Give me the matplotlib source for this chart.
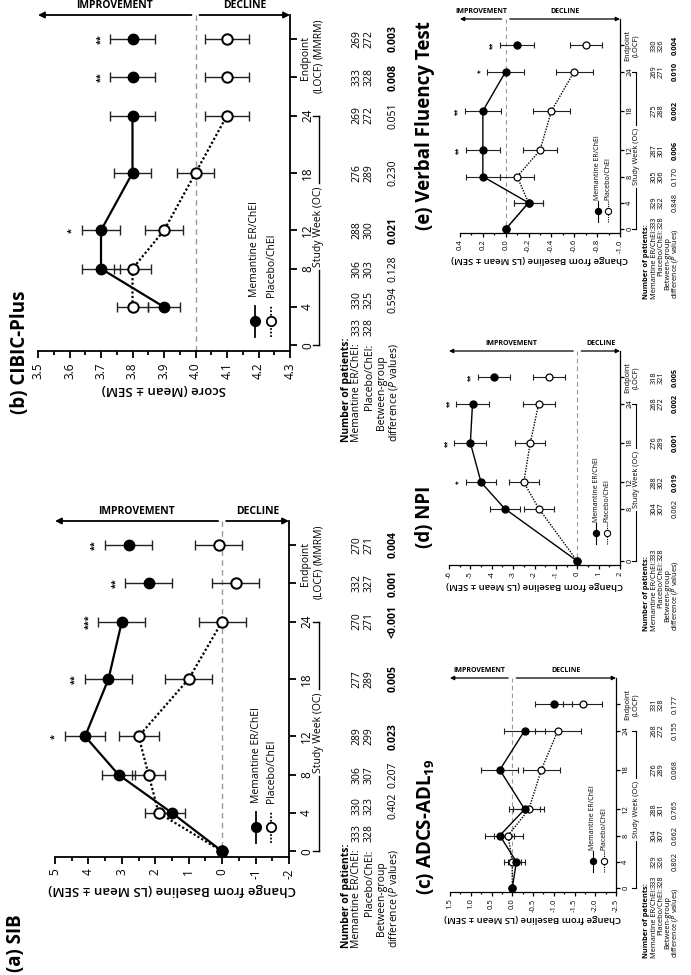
import matplotlib
matplotlib.use("Agg")
import matplotlib.pyplot as plt
import matplotlib.transforms as mtransforms
from matplotlib.ticker import MultipleLocator, FuncFormatter

plt.rcParams['font.family'] = ['Open Sans', 'DejaVu Sans']
plt.rcParams['axes.unicode_minus'] = False
plt.rcParams['mathtext.fontset'] = 'custom'
plt.rcParams['mathtext.rm'] = 'Open Sans'
plt.rcParams['mathtext.it'] = 'Open Sans:italic'
plt.rcParams['mathtext.bf'] = 'Open Sans:bold'

# endpoints are plotted at week 28 (LOCF) and 32 (MMRM)
# (a) SIB
sib_weeks = [0, 4, 8, 12, 18, 24, 28, 32]
sib_mem = [0.0, 1.5, 3.1, 4.1, 3.4, 3.0, 2.2, 2.8]
sib_mem_err = [0.0, 0.4, 0.5, 0.6, 0.7, 0.7, 0.7, 0.7]
sib_pbo = [0.0, 1.9, 2.2, 2.5, 1.0, 0.0, -0.4, 0.1]
sib_pbo_err = [0.0, 0.4, 0.5, 0.6, 0.7, 0.7, 0.7, 0.7]
sib_sig = ['', '', '', '*', '**', '***', '**', '**']
sib_n_mem = [333, 330, 306, 289, 277, 270, 332, 270]
sib_n_pbo = [328, 323, 307, 299, 289, 271, 327, 271]
sib_p = ['', '0.402', '0.207', '0.023', '0.005', '<0.001', '0.001', '0.004']

# (b) CIBIC-Plus
cib_weeks = [4, 8, 12, 18, 24, 28, 32]
cib_mem = [3.9, 3.7, 3.7, 3.8, 3.8, 3.8, 3.8]
cib_mem_err = [0.05, 0.06, 0.06, 0.06, 0.07, 0.07, 0.07]
cib_pbo = [3.8, 3.8, 3.9, 4.0, 4.1, 4.1, 4.1]
cib_pbo_err = [0.05, 0.06, 0.06, 0.06, 0.07, 0.07, 0.07]
cib_sig = ['', '', '*', '', '', '**', '**']
cib_n_mem = [333, 330, 306, 288, 276, 269, 333, 269]
cib_n_pbo = [328, 325, 303, 300, 289, 272, 328, 272]
cib_p = ['', '0.594', '0.128', '0.021', '0.230', '0.051', '0.008', '0.003']

# (c) ADCS-ADL19
adl_weeks = [0, 4, 8, 12, 18, 24, 28]
adl_mem = [0.0, -0.1, 0.3, -0.3, 0.3, -0.3, -1.0]
adl_mem_err = [0.0, 0.2, 0.35, 0.37, 0.45, 0.5, 0.45]
adl_pbo = [0.0, 0.0, 0.1, -0.4, -0.7, -1.1, -1.7]
adl_pbo_err = [0.0, 0.2, 0.35, 0.37, 0.45, 0.55, 0.47]
adl_sig = ['', '', '', '', '', '', '']
adl_n_mem = [333, 329, 304, 288, 276, 268, 331]
adl_n_pbo = [328, 326, 307, 301, 289, 272, 328]
adl_p = ['', '0.802', '0.662', '0.765', '0.068', '0.155', '0.177']

# (d) NPI
npi_weeks = [0, 8, 12, 18, 24, 28]
npi_mem = [0.0, -3.4, -4.5, -5.0, -4.9, -3.9]
npi_mem_err = [0.0, 0.7, 0.7, 0.75, 0.75, 0.75]
npi_pbo = [0.0, -1.8, -2.5, -2.2, -1.8, -1.3]
npi_pbo_err = [0.0, 0.7, 0.7, 0.7, 0.75, 0.75]
npi_sig = ['', '', '*', '**', '**', '**']
npi_n_mem = [333, 304, 288, 276, 268, 318]
npi_n_pbo = [328, 307, 302, 289, 272, 321]
npi_p = ['', '0.062', '0.019', '0.001', '0.002', '0.005']

# (e) Verbal Fluency Test
vft_weeks = [0, 4, 8, 12, 18, 24, 28]
vft_mem = [0.0, -0.2, 0.2, 0.2, 0.2, 0.0, -0.1]
vft_mem_err = [0.0, 0.13, 0.15, 0.15, 0.16, 0.16, 0.15]
vft_pbo = [0.0, -0.2, -0.1, -0.3, -0.4, -0.6, -0.7]
vft_pbo_err = [0.0, 0.13, 0.15, 0.15, 0.16, 0.16, 0.14]
vft_sig = ['', '', '', '**', '**', '*', '**']
vft_n_mem = [333, 329, 305, 287, 275, 269, 330]
vft_n_pbo = [328, 322, 306, 301, 288, 271, 326]
vft_p = ['', '0.848', '0.170', '0.006', '0.002', '0.010', '0.004']

W, H = 691, 975
fig = plt.figure(figsize=(W / 100, H / 100), dpi=100)
renderer = fig.canvas.get_renderer()

BIG = dict(ms=7.5, lw=1.6, elw=1.0, cap=3.5, tick=8.5, star=6.5, arrow=7.5, arrow_lw=1.3,
           head=9, lab=9.5, leg=7.5, tab=7.5, tlen=5, pad=3)
SMALL = dict(ms=5, lw=1.0, elw=0.8, cap=2.3, tick=5.5, star=4.8, arrow=5, arrow_lw=0.9,
             head=6, lab=6.8, leg=5, tab=5.3, tlen=3, pad=1.5)


def box(l, t, r, b):
    return fig.add_axes([l / W, 1 - b / H, (r - l) / W, (b - t) / H])


def fmt_tick(v, pos, dec):
    if abs(v) < 1e-9:
        v = 0.0
    return ('%.' + str(dec) + 'f') % v


def wk_of(ax, ypix_disp):
    return ax.transData.inverted().transform((0, ypix_disp))[1]


def panel(ax, weeks, mem, mem_err, pbo, pbo_err, sig, xlim, major, minor, dec,
          zero, ylim, tick_wk, st):
    n_line = len([w for w in weeks if w <= 24])
    for vals, errs in [(pbo, pbo_err), (mem, mem_err)]:
        idx = [i for i in range(len(weeks)) if errs[i] > 0]
        ax.errorbar([vals[i] for i in idx], [weeks[i] for i in idx],
                    xerr=[errs[i] for i in idx], fmt='none', ecolor='#222222',
                    elinewidth=st['elw'], capsize=st['cap'], capthick=st['elw'], zorder=2)
    ax.plot(pbo[:n_line], weeks[:n_line], color='k', lw=st['lw'], ls=(0, (1, 1)), zorder=3)
    ax.plot(mem[:n_line], weeks[:n_line], color='k', lw=st['lw'], zorder=3)
    ax.plot(pbo, weeks, 'o', ls='none', mfc='white', mec='k', mew=st['lw'] * 0.9,
            ms=st['ms'], zorder=4)
    ax.plot(mem, weeks, 'o', ls='none', mfc='k', mec='k', ms=st['ms'], zorder=5)

    ax.set_xlim(xlim)
    ax.set_ylim(ylim)
    ax.axvline(zero, color='#9a9a9a', lw=st['elw'], ls=(0, (4, 3)), zorder=1)
    for s in ['top', 'left']:
        ax.spines[s].set_visible(False)
    for s in ['bottom', 'right']:
        ax.spines[s].set_linewidth(st['arrow_lw'])
    ax.yaxis.tick_right()
    ax.xaxis.set_major_locator(MultipleLocator(major))
    ax.xaxis.set_minor_locator(MultipleLocator(minor))
    ax.xaxis.set_major_formatter(FuncFormatter(lambda v, p: fmt_tick(v, p, dec)))
    ax.tick_params(axis='x', which='major', length=st['tlen'], width=st['arrow_lw'],
                   labelsize=st['tick'], labelrotation=90, pad=st['pad'])
    ax.tick_params(axis='x', which='minor', length=st['tlen'] * 0.6, width=st['arrow_lw'])
    ax.set_yticks(tick_wk)
    ax.set_yticklabels([str(w) if w <= 24 else '' for w in tick_wk])
    ax.tick_params(axis='y', length=st['tlen'], width=st['arrow_lw'], labelsize=st['tick'],
                   labelrotation=90, pad=st['pad'])
    for t in ax.get_yticklabels():
        t.set_va('center')

    # improvement / decline arrows along the top
    sgn = 1 if xlim[1] > xlim[0] else -1
    gap = 4 * abs(xlim[1] - xlim[0]) / (ax.get_position().width * W)
    for end, label in [(xlim[0], 'IMPROVEMENT'), (xlim[1], 'DECLINE')]:
        start = zero - sgn * gap if end == xlim[0] else zero + sgn * gap
        ax.annotate('', xy=(end, 1), xytext=(start, 1), xycoords=('data', 'axes fraction'),
                    arrowprops=dict(arrowstyle='-|>', lw=st['arrow_lw'], color='k',
                                    mutation_scale=st['head'], shrinkA=0, shrinkB=0),
                    annotation_clip=False)
        ax.annotate(label, xy=((end + start) / 2, 1), xycoords=('data', 'axes fraction'),
                    xytext=(0, 3), textcoords='offset points', ha='center', va='bottom',
                    fontsize=st['arrow'], fontweight='bold', annotation_clip=False)

    # significance marks on the improvement side
    inv = xlim[0] > xlim[1]
    for w, m, e, s in zip(weeks, mem, mem_err, sig):
        if s:
            left = m + e if inv else m - e
            ax.annotate(s, xy=(left, w), xytext=(-st['cap'] * 1.1, 0),
                        textcoords='offset points', ha='right', va='center', rotation=90,
                        fontsize=st['star'], fontweight='bold')


def legend(ax, xs, wk_mark, half, wk_text, st):
    tr = mtransforms.blended_transform_factory(ax.transAxes, ax.transData)
    for x, filled, ls, lab in zip(xs, [True, False], ['-', (0, (1, 1))],
                                  ['Memantine ER/ChEI', 'Placebo/ChEI']):
        ax.plot([x, x], [wk_mark - half, wk_mark + half], transform=tr, color='k',
                lw=st['lw'] * 0.8, ls=ls, clip_on=False)
        ax.plot([x], [wk_mark], 'o', transform=tr, mfc='k' if filled else 'white', mec='k',
                mew=st['lw'] * 0.8, ms=st['ms'] * 0.9, clip_on=False)
        ax.text(x, wk_text, lab, transform=tr, rotation=90, ha='center', va='bottom',
                fontsize=st['leg'])


def p_is_bold(p):
    if not p:
        return False
    if p.startswith('<'):
        return True
    return float(p) < 0.05


def table(ax, col_wk, n_mem, n_pbo, pvals, rows, lab_top, x_tick, x_sw, sw_wk,
          ep_wks, ep_names, st):
    tr = mtransforms.blended_transform_factory(fig.transFigure, ax.transData)
    fs = st['tab']
    kw = dict(transform=tr, rotation=90, ha='center', va='center', fontsize=fs)
    for w, a, b, p in zip(col_wk, n_mem, n_pbo, pvals):
        ax.text(rows[1] / W, w, str(a), **kw)
        ax.text(rows[2] / W, w, str(b), **kw)
        if p:
            ax.text(rows[4] / W, w, p, fontweight='bold' if p_is_bold(p) else 'normal', **kw)

    kw2 = dict(transform=tr, rotation=90, ha='center', fontsize=fs)
    t_mem = ax.text(rows[1] / W, lab_top, 'Memantine ER/ChEI:', va='top', **kw2)
    ax.text(rows[2] / W, lab_top, 'Placebo/ChEI:', va='top', **kw2)
    low = wk_of(ax, t_mem.get_window_extent(renderer).y0)
    ax.text(rows[0] / W, low, 'Number of patients:', va='bottom', fontweight='bold', **kw2)
    t_diff = ax.text(rows[4] / W, low, r'difference ($\it{P}$ values)', va='bottom', **kw2)
    bb = t_diff.get_window_extent(renderer)
    ax.text(rows[3] / W, wk_of(ax, (bb.y0 + bb.y1) / 2), 'Between-group', va='center', **kw2)

    # study week bracket
    t_sw = ax.text(x_sw / W, sw_wk, 'Study Week (OC)', **kw)
    bb = t_sw.get_window_extent(renderer)
    lo = wk_of(ax, bb.y0 - 3)
    hi = wk_of(ax, bb.y1 + 3)
    lk = dict(transform=tr, color='k', lw=st['elw'], clip_on=False)
    ax.plot([x_sw / W] * 2, [0, lo], **lk)
    ax.plot([x_sw / W] * 2, [hi, 24], **lk)
    cap = (st['tlen'] + 1) / W
    ax.plot([x_sw / W - cap, x_sw / W], [0, 0], **lk)
    ax.plot([x_sw / W - cap, x_sw / W], [24, 24], **lk)

    # endpoint labels
    ax.text(x_tick / W, sum(ep_wks) / len(ep_wks), 'Endpoint', **kw)
    for w, name in zip(ep_wks, ep_names):
        ax.text(x_sw / W, w, name, **kw)


def title(x, y, s, va):
    fig.text(x / W, 1 - y / H, s, rotation=90, ha='center', va=va, fontsize=13.5,
             fontweight='bold')


# ---------- (a) SIB ----------
ax_a = box(55, 521, 289, 857)
panel(ax_a, sib_weeks, sib_mem, sib_mem_err, sib_pbo, sib_pbo_err, sib_sig,
      (5, -2), 1, 0.5, 0, 0, (-0.6, 34.5), [0, 4, 8, 12, 18, 24, 28, 32], BIG)
ax_a.set_xlabel('Change from Baseline (LS Mean \u00b1 SEM)', rotation=180,
                fontsize=BIG['lab'], fontweight='semibold', labelpad=3)
legend(ax_a, [0.86, 0.925], 2.5, 1.6, 5.0, BIG)
table(ax_a, [1.9, 4.7, 8, 12, 18, 24, 28, 32], sib_n_mem, sib_n_pbo, sib_p,
      [346, 357, 369, 381, 393], 0.2, 305, 319, 12.4, [28, 32], ['(LOCF)', '(MMRM)'], BIG)
title(16, 972, '(a) SIB', 'bottom')

# ---------- (b) CIBIC-Plus ----------
ax_b = box(38, 15, 290, 351)
panel(ax_b, cib_weeks, cib_mem, cib_mem_err, cib_pbo, cib_pbo_err, cib_sig,
      (3.5, 4.3), 0.1, 0.05, 1, 4.0, (-0.6, 34.5), [0, 4, 8, 12, 18, 24, 28, 32], BIG)
ax_b.set_xlabel('Score (Mean \u00b1 SEM)', rotation=180, fontsize=BIG['lab'],
                fontweight='semibold', labelpad=3)
legend(ax_b, [0.86, 0.925], 2.5, 1.6, 5.0, BIG)
table(ax_b, [1.9, 4.7, 8, 12, 18, 24, 28, 32], cib_n_mem, cib_n_pbo, cib_p,
      [346, 357, 369, 381, 393], 0.2, 305, 319, 12.4, [28, 32], ['(LOCF)', '(MMRM)'], BIG)
title(20, 352, '(b) CIBIC-Plus', 'center')

# ---------- (e) Verbal Fluency Test ----------
ax_e = box(460, 19, 620, 233)
panel(ax_e, vft_weeks, vft_mem, vft_mem_err, vft_pbo, vft_pbo_err, vft_sig,
      (0.4, -1.0), 0.2, 0.1, 1, 0, (-0.6, 32), [0, 4, 8, 12, 18, 24, 28], SMALL)
ax_e.set_xlabel('Change from Baseline (LS Mean \u00b1 SEM)', rotation=180,
                fontsize=SMALL['lab'], fontweight='semibold', labelpad=2)
legend(ax_e, [0.86, 0.925], 2.7, 1.6, 4.4, SMALL)
table(ax_e, [1.0, 4, 8, 12, 18, 24, 28], vft_n_mem, vft_n_pbo, vft_p,
      [647, 654, 661, 668, 675], 0.0, 628, 636, 11.0, [28], ['(LOCF)'], SMALL)
title(425, 230, '(e) Verbal Fluency Test', 'bottom')

# ---------- (d) NPI ----------
ax_d = box(449, 351, 620, 565)
panel(ax_d, npi_weeks, npi_mem, npi_mem_err, npi_pbo, npi_pbo_err, npi_sig,
      (-6, 2), 1, 0.5, 0, 0, (-0.6, 32), [0, 8, 12, 18, 24, 28], SMALL)
ax_d.set_xlabel('Change from Baseline (LS Mean \u00b1 SEM)', rotation=180,
                fontsize=SMALL['lab'], fontweight='semibold', labelpad=2)
legend(ax_d, [0.86, 0.925], 4.2, 1.6, 6.0, SMALL)
table(ax_d, [1.0, 8, 12, 18, 24, 28], npi_n_mem, npi_n_pbo, npi_p,
      [647, 654, 661, 668, 675], 0.0, 628, 636, 12.4, [28], ['(LOCF)'], SMALL)
title(425, 548, '(d) NPI', 'bottom')

# ---------- (c) ADCS-ADL19 ----------
ax_c = box(450, 678, 616, 892)
panel(ax_c, adl_weeks, adl_mem, adl_mem_err, adl_pbo, adl_pbo_err, adl_sig,
      (1.5, -2.5), 0.5, 0.25, 1, 0, (-0.6, 32), [0, 4, 8, 12, 18, 24, 28], SMALL)
ax_c.set_xlabel('Change from Baseline (LS Mean \u00b1 SEM)', rotation=180,
                fontsize=SMALL['lab'], fontweight='semibold', labelpad=2)
legend(ax_c, [0.86, 0.925], 4.1, 1.6, 5.8, SMALL)
table(ax_c, [1.0, 4, 8, 12, 18, 24, 28], adl_n_mem, adl_n_pbo, adl_p,
      [647, 654, 661, 668, 675], 0.0, 628, 636, 11.9, [28], ['(LOCF)'], SMALL)
title(425, 895, r'(c) ADCS-ADL$_{\mathbf{19}}$', 'bottom')

fig.savefig('out.png', dpi=100)
